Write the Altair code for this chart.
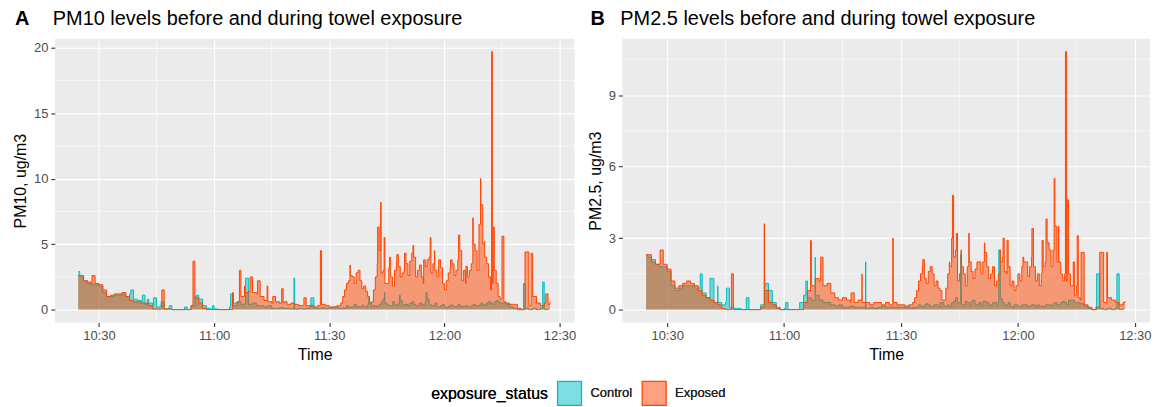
import altair as alt
import pandas as pd

# ---------------- data (minutes relative to 10:30) ----------------
grid_minutes = list(range(-5, 118))
mid_minutes = [m + 0.5 for m in range(62, 106)]

pm10_exposed = [
    2.6, 2.2, 2.1, 2.0, 2.0, 1.9, 1.5, 1.0, 1.1, 1.2,
    1.2, 1.3, 1.0, 0.7, 0.6, 0.6, 0.5, 0.5, 0.3, 0.05,
    0.05, 0.05, 0.05, 0.05, 0.0, 0.0, 0.0, 0.0, 0.0, 0.3,
    0.9, 0.5, 0.1, 0.0, 0.0, 0.0, 0.0, 0.0, 0.0, 0.0,
    0.3, 0.6, 1.0, 1.3, 1.4, 1.3, 1.2, 1.0, 0.7, 0.6,
    0.5, 0.6, 0.5, 0.6, 0.4, 0.5, 0.4, 0.3, 0.3, 0.3,
    0.3, 0.2, 0.3, 0.4, 0.3, 0.2, 0.2, 0.3, 0.5, 1.5,
    2.2, 2.5, 2.8, 2.2, 1.8, 1.0, 0.6, 2.5, 4.5, 3.0,
    2.0, 2.5, 3.0, 3.3, 2.8, 3.5, 3.7, 4.0, 3.0, 2.5,
    3.3, 4.0, 3.5, 2.5, 3.2, 1.5, 2.8, 3.5, 3.0, 4.5,
    3.0, 2.5, 3.5, 4.5, 6.5, 5.0, 3.5, 1.5, 3.0, 1.0,
    1.0, 0.5, 0.4, 0.4, 0.1, 0.0, 0.3, 0.3, 1.0, 0.5,
    0.3, 0.5, 0.4,
]
pm10_exposed_mid = [
    0.3, 1.0, 2.0, 2.6, 2.0, 3.0, 1.6, 1.4, 0.5, 1.5,
    3.5, 2.8, 2.0, 3.2, 1.8, 3.6, 2.5, 3.0, 2.6, 4.3,
    2.5, 3.4, 2.0, 3.8, 2.8, 3.0, 3.8, 2.0, 2.2, 3.2,
    2.6, 3.8, 2.2, 2.0, 3.0, 5.0, 3.0, 8.0, 4.0, 2.5,
    2.0, 2.0, 0.8, 0.6,
]
pm10_exposed_spike_t = [-5.4, -1.8, 16.4, 24.5, 34.8, 36.6, 37.9, 39.4, 41.3, 43.8,
                        45.3, 47.6, 53.4, 57.7, 65.4, 72.6, 73.4, 74.3, 75.7, 77.6,
                        79.6, 81.8, 84.6, 86.3, 87.4, 91.6, 93.7, 95.6, 97.4, 99.4,
                        100.4, 102.3, 102.7, 105.0, 111.0, 112.6, 116.4, 117.5]
pm10_exposed_spike_v = [2.6, 2.6, 1.5, 3.7, 1.3, 3.0, 1.8, 2.5, 2.2, 1.8,
                        1.0, 1.6, 0.9, 4.5, 3.4, 6.3, 8.2, 5.5, 4.0, 4.2,
                        4.3, 4.9, 3.8, 5.5, 4.5, 3.8, 5.7, 3.3, 7.0, 10.0,
                        5.2, 19.7, 6.3, 5.6, 4.4, 4.3, 1.2, 0.6]

pm10_control = [
    2.5, 2.2, 2.0, 1.9, 1.9, 1.8, 1.3, 1.0, 1.0, 1.1,
    1.1, 1.2, 1.0, 1.2, 0.8, 0.7, 0.6, 0.4, 0.5, 0.3,
    0.2, 0.3, 0.05, 0.1, 0.0, 0.0, 0.0, 0.0, 0.0, 0.3,
    1.0, 0.8, 0.3, 0.1, 0.05, 0.05, 0.0, 0.0, 0.0, 0.2,
    0.5, 0.6, 0.4, 0.5, 0.4, 0.5, 0.3, 0.3, 0.2, 0.3,
    0.1, 0.1, 0.15, 0.1, 0.1, 0.05, 0.05, 0.1, 0.05, 0.1,
    0.2, 0.1, 0.1, 0.15, 0.1, 0.15, 0.2, 0.15, 0.1, 0.1,
    0.15, 0.2, 0.3, 0.2, 0.25, 0.4, 0.2, 0.3, 0.4, 0.8,
    0.4, 0.3, 0.4, 0.5, 0.3, 0.4, 0.5, 0.4, 0.3, 0.4,
    0.6, 0.4, 0.3, 0.2, 0.3, 0.2, 0.25, 0.3, 0.2, 0.3,
    0.25, 0.2, 0.3, 0.3, 0.35, 0.3, 0.5, 0.5, 0.6, 0.6,
    0.5, 0.4, 0.2, 0.1, 0.0, 0.0, 0.1, 0.0, 0.1, 0.0,
    0.1, 0.0, 0.1,
]
pm10_control_mid = [
    0.1, 0.15, 0.3, 0.2, 0.4, 0.2, 0.35, 0.15, 0.5, 0.3,
    0.2, 0.6, 0.5, 0.3, 0.6, 0.3, 0.7, 0.4, 0.3, 0.6,
    0.3, 0.5, 0.3, 0.8, 0.3, 0.5, 0.2, 0.4, 0.15, 0.35,
    0.2, 0.4, 0.2, 0.3, 0.2, 0.4, 0.3, 0.5, 0.4, 0.6,
    0.4, 0.7, 0.5, 0.5,
]
pm10_control_spike_t = [-5.4, 8.3, 11.3, 12.6, 14.2, 16.2, 18.3, 22.3, 25.4, 29.6,
                        34.3, 38.2, 50.8, 55.2, 70.3, 74.4, 78.3, 85.2, 110.6, 115.6]
pm10_control_spike_v = [2.9, 1.5, 1.1, 0.8, 0.9, 0.6, 0.3, 0.2, 1.1, 0.3,
                        1.2, 2.4, 2.4, 0.9, 0.9, 1.3, 1.1, 1.3, 2.0, 2.1]

pm25_exposed = [
    2.3, 2.0, 1.9, 1.9, 1.9, 1.7, 1.2, 0.9, 1.0, 1.1,
    1.2, 1.1, 1.0, 0.8, 0.6, 0.5, 0.4, 0.3, 0.2, 0.05,
    0.0, 0.0, 0.0, 0.0, 0.0, 0.0, 0.0, 0.0, 0.0, 0.1,
    0.8, 0.3, 0.2, 0.05, 0.0, 0.0, 0.0, 0.0, 0.0, 0.0,
    0.3, 0.8, 1.0, 1.3, 1.2, 1.0, 1.1, 0.7, 0.5, 0.4,
    0.5, 0.4, 0.3, 0.3, 0.4, 0.3, 0.3, 0.2, 0.3, 0.3,
    0.2, 0.3, 0.2, 0.3, 0.2, 0.2, 0.1, 0.2, 0.3, 0.8,
    1.5, 1.3, 1.6, 1.5, 1.2, 0.8, 0.4, 1.5, 3.0, 2.5,
    1.5, 1.5, 1.8, 1.6, 1.7, 2.0, 2.0, 1.8, 1.5, 1.0,
    1.5, 2.2, 1.5, 1.0, 0.8, 1.5, 1.8, 2.0, 1.8, 1.8,
    1.5, 1.5, 2.0, 2.5, 2.5, 2.0, 1.5, 1.5, 1.5, 1.0,
    1.0, 0.4, 0.2, 0.1, 0.0, 0.1, 0.2, 0.3, 0.5, 0.4,
    0.3, 0.2, 0.3,
]
pm25_exposed_mid = [
    0.2, 0.5, 1.2, 1.8, 1.1, 1.8, 1.0, 0.9, 0.4, 0.9,
    1.8, 2.2, 1.2, 1.8, 1.0, 2.0, 1.3, 2.0, 1.5, 2.4,
    1.3, 1.8, 1.2, 2.0, 1.6, 1.8, 1.2, 1.0, 1.2, 2.0,
    1.4, 2.2, 1.2, 1.0, 1.8, 2.8, 1.8, 3.5, 2.0, 1.2,
    1.2, 1.0, 0.6, 0.5,
]
pm25_exposed_spike_t = [-5.4, -1.8, 16.5, 24.9, 36.8, 39.4, 47.2, 50.0, 57.9, 65.6,
                        72.4, 73.2, 74.2, 75.4, 77.4, 81.4, 85.4, 86.2, 87.2, 91.3,
                        93.6, 96.2, 97.2, 99.3, 100.4, 102.2, 102.6, 104.2, 105.2, 106.2,
                        111.0, 112.8, 117.5]
pm25_exposed_spike_v = [2.3, 2.5, 1.5, 3.6, 2.9, 2.2, 0.7, 1.5, 3.0, 2.1,
                        2.0, 4.8, 3.2, 2.5, 3.2, 2.8, 2.5, 3.0, 2.9, 2.2,
                        3.4, 2.9, 3.8, 5.5, 3.5, 10.82, 4.6, 2.0, 3.1, 2.4,
                        2.4, 2.4, 0.35]

pm25_control = [
    2.2, 2.1, 1.9, 1.8, 1.8, 1.6, 1.0, 0.8, 0.9, 1.0,
    1.0, 1.0, 0.9, 0.9, 0.7, 0.5, 0.5, 0.3, 0.3, 0.2,
    0.3, 0.1, 0.05, 0.05, 0.0, 0.0, 0.0, 0.0, 0.0, 0.2,
    1.0, 0.8, 0.3, 0.1, 0.0, 0.05, 0.0, 0.0, 0.0, 0.3,
    0.6, 0.5, 0.4, 0.6, 0.4, 0.3, 0.3, 0.2, 0.15, 0.2,
    0.1, 0.1, 0.15, 0.1, 0.1, 0.1, 0.05, 0.1, 0.05, 0.1,
    0.15, 0.1, 0.1, 0.1, 0.1, 0.1, 0.15, 0.1, 0.1, 0.1,
    0.15, 0.2, 0.2, 0.15, 0.2, 0.3, 0.15, 0.2, 0.3, 0.5,
    0.3, 0.2, 0.3, 0.35, 0.2, 0.3, 0.35, 0.3, 0.2, 0.3,
    0.4, 0.3, 0.2, 0.15, 0.2, 0.15, 0.2, 0.2, 0.15, 0.2,
    0.2, 0.15, 0.2, 0.2, 0.25, 0.2, 0.3, 0.3, 0.4, 0.4,
    0.3, 0.25, 0.15, 0.05, 0.0, 0.0, 0.05, 0.0, 0.05, 0.0,
    0.05, 0.0, 0.05,
]
pm25_control_mid = [
    0.05, 0.1, 0.2, 0.1, 0.25, 0.1, 0.2, 0.1, 0.3, 0.15,
    0.1, 0.35, 0.3, 0.2, 0.35, 0.15, 0.4, 0.2, 0.15, 0.35,
    0.15, 0.3, 0.15, 0.45, 0.15, 0.3, 0.1, 0.2, 0.1, 0.2,
    0.1, 0.2, 0.1, 0.15, 0.1, 0.2, 0.15, 0.3, 0.2, 0.35,
    0.2, 0.4, 0.3, 0.3,
]
pm25_control_spike_t = [-5.4, 8.5, 11.0, 13.0, 15.2, 20.3, 25.3, 30.4, 35.6, 38.0,
                        50.9, 75.3, 85.1, 110.2, 115.4]
pm25_control_spike_v = [2.3, 1.5, 1.3, 1.0, 0.9, 0.5, 1.1, 0.3, 1.2, 2.2,
                        2.0, 2.3, 2.5, 1.5, 1.5]

statuses = ["Control", "Exposed"]
status_colors = ["#00BFC4", "#FF4500"]

pm10_major = [0, 5, 10, 15, 20]
pm10_minor = [2.5, 7.5, 12.5, 17.5]
pm25_major = [0, 3, 6, 9]
pm25_minor = [1.5, 4.5, 7.5, 10.5]
time_major = ["10:30", "11:00", "11:30", "12:00", "12:30"]
time_minor = ["10:45", "11:15", "11:45", "12:15"]

DAY = "2021-01-01"
BASE = pd.Timestamp(f"{DAY} 10:30:00")
FONT = "Liberation Sans"


def iso(ts):
    return ts.strftime("%Y-%m-%dT%H:%M:%S")


def series(base_vals, mid_vals, spike_t, spike_v, status):
    t = grid_minutes + mid_minutes + spike_t
    v = base_vals + mid_vals + spike_v
    df = pd.DataFrame({"t": t, "v": v}).sort_values("t").reset_index(drop=True)
    df["time"] = [iso(BASE + pd.Timedelta(minutes=float(m))) for m in df["t"]]
    df["status"] = status
    df["group"] = status
    return df


def hm(s):
    return f"{DAY}T{s}:00"


x_domain = [f"{DAY}T10:18:30", f"{DAY}T12:33:54"]

LEG_COMMON = dict(
    title="exposure_status", orient="none", direction="horizontal",
    titleOrient="left", legendX=378, legendY=343,
    symbolType="square", symbolSize=576, symbolStrokeWidth=1.3,
    titleFontSize=16, labelFontSize=13, titleFontWeight="normal",
    titleColor="black", labelColor="#222222", titleFont=FONT, labelFont=FONT,
    columnPadding=7, labelOffset=8, titlePadding=8,
)


def panel(ctrl, expo, ytitle, tag, title, tag_dx, ydom, ymajor, yminor, width):
    x_enc = alt.X(
        "time:T",
        scale=alt.Scale(domain=x_domain),
        axis=alt.Axis(
            values=[hm(s) for s in time_major], format="%H:%M", title="Time",
            titlePadding=4,
        ),
    )
    y_enc = alt.Y(
        "v:Q",
        scale=alt.Scale(domain=ydom, nice=False, zero=False),
        axis=alt.Axis(values=ymajor, title=ytitle, titlePadding=5),
    )
    fill_scale = alt.Scale(domain=statuses, range=status_colors)
    stroke_scale = alt.Scale(range=status_colors)
    fill_legend = alt.Legend(symbolOpacity=0.5, symbolStrokeColor="transparent", **LEG_COMMON)
    stroke_legend = alt.Legend(symbolFillColor="transparent", **LEG_COMMON)

    vgrid = alt.Chart(pd.DataFrame({"time": [hm(s) for s in time_minor]})).mark_rule(
        color="white", strokeWidth=0.55).encode(x=x_enc)
    hgrid = alt.Chart(pd.DataFrame({"v": yminor})).mark_rule(
        color="white", strokeWidth=0.55).encode(y=y_enc)

    def area(df):
        return alt.Chart(df).mark_area(
            fillOpacity=0.5, clip=True, interpolate="step-after").encode(
            x=x_enc, y=y_enc, y2=alt.datum(0),
            fill=alt.Fill("status:N", scale=fill_scale, legend=fill_legend),
        )

    def line(df):
        return alt.Chart(df).mark_line(
            strokeWidth=1.0, clip=True, interpolate="step-after").encode(
            x=x_enc, y=y_enc,
            stroke=alt.Stroke("group:N", scale=stroke_scale, legend=stroke_legend),
        )

    tag_txt = alt.Chart(pd.DataFrame({"label": [tag]})).mark_text(
        align="left", baseline="alphabetic", fontSize=20, fontWeight="bold",
        font=FONT, color="black").encode(
        text="label:N", x=alt.value(tag_dx), y=alt.value(-14))
    title_txt = alt.Chart(pd.DataFrame({"label": [title]})).mark_text(
        align="left", baseline="alphabetic", fontSize=20, font=FONT,
        color="black").encode(
        text="label:N", x=alt.value(-2), y=alt.value(-14))

    return alt.layer(
        vgrid, hgrid, area(ctrl), line(ctrl), area(expo), line(expo),
        tag_txt, title_txt,
    ).properties(width=width, height=285)


pm10_c = series(pm10_control, pm10_control_mid, pm10_control_spike_t, pm10_control_spike_v, "Control")
pm10_e = series(pm10_exposed, pm10_exposed_mid, pm10_exposed_spike_t, pm10_exposed_spike_v, "Exposed")
pm25_c = series(pm25_control, pm25_control_mid, pm25_control_spike_t, pm25_control_spike_v, "Control")
pm25_e = series(pm25_exposed, pm25_exposed_mid, pm25_exposed_spike_t, pm25_exposed_spike_v, "Exposed")

pA = panel(pm10_c, pm10_e, "PM10, ug/m3", "A", "PM10 levels before and during towel exposure",
           -40, [-0.985, 20.685], pm10_major, pm10_minor, 522)
pB = panel(pm25_c, pm25_e, "PM2.5, ug/m3", "B", "PM2.5 levels before and during towel exposure",
           -32, [-0.541, 11.36], pm25_major, pm25_minor, 530)

chart = alt.hconcat(pA, pB, spacing=48, bounds="flush").resolve_scale(
    fill="shared", stroke="shared"
).resolve_legend(fill="shared", stroke="shared").properties(
    padding={"left": 4, "top": 0, "right": 4, "bottom": 4}
).configure(
    font=FONT,
).configure_view(
    fill="#EBEBEB", strokeWidth=0,
).configure_axis(
    grid=True, gridColor="white", gridWidth=1.1, domain=False,
    tickColor="#333333", tickSize=4, tickWidth=1.1,
    labelColor="#4D4D4D", labelFontSize=13, labelFont=FONT, labelPadding=3,
    titleFont=FONT, titleFontSize=16, titleFontWeight="normal", titleColor="black",
)

chart.save("out.html", embed_options={"renderer": "svg", "actions": False})
